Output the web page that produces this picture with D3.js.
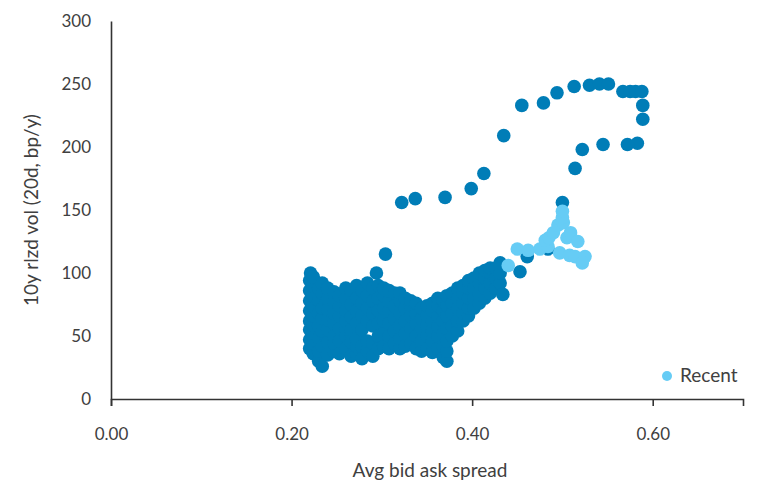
<!doctype html>
<html lang="en">
  <head>
    <meta charset="UTF-8" />
    <title>Vol vs bid ask spread</title>
    <script src="https://d3js.org/d3.v7.min.js"></script>
    <style>
      body { margin: 0; background: #fff; }
      text { font-family: Lato, "Open Sans", sans-serif; fill: #404040; }
    </style>
  </head>
  <body>
    <svg width="757" height="485"></svg>
    <script>
      // [avg bid ask spread, 10y realised vol]
      const historyPoints = [
        [0.220, 40], [0.220, 47], [0.220, 55], [0.220, 62], [0.220, 70], [0.220, 78], [0.220, 86], [0.220, 94], [0.221, 100],
        [0.224, 36], [0.224, 44], [0.224, 52], [0.224, 59], [0.224, 66], [0.224, 74], [0.224, 82], [0.224, 90], [0.224, 97],
        [0.230, 30], [0.230, 38], [0.230, 48], [0.230, 58], [0.230, 68], [0.230, 78], [0.230, 88],
        [0.234, 26], [0.234, 42], [0.234, 54], [0.234, 64], [0.234, 72], [0.234, 84], [0.234, 92],
        [0.240, 35], [0.240, 45], [0.240, 55], [0.240, 63], [0.240, 71], [0.240, 80], [0.240, 88],
        [0.247, 38], [0.247, 44], [0.247, 50], [0.247, 60], [0.247, 68], [0.247, 77], [0.247, 85],
        [0.253, 36], [0.253, 46], [0.253, 56], [0.253, 66], [0.253, 74], [0.253, 82],
        [0.260, 40], [0.260, 50], [0.260, 56], [0.260, 62], [0.260, 70], [0.260, 80], [0.260, 88],
        [0.266, 34], [0.266, 45], [0.266, 55], [0.266, 65], [0.266, 75], [0.266, 86],
        [0.272, 36], [0.272, 42], [0.272, 48], [0.272, 60], [0.272, 70], [0.272, 80], [0.272, 90],
        [0.278, 32], [0.278, 42], [0.278, 55], [0.278, 66], [0.278, 76], [0.278, 86],
        [0.284, 38], [0.284, 46], [0.284, 62], [0.284, 72], [0.284, 82], [0.284, 92],
        [0.290, 34], [0.290, 44], [0.290, 58], [0.290, 68], [0.290, 78], [0.290, 88],
        [0.296, 40], [0.296, 50], [0.296, 60], [0.296, 70], [0.296, 80], [0.296, 90], [0.294, 100],
        [0.302, 42], [0.302, 52], [0.302, 62], [0.302, 72], [0.302, 82], [0.302, 88], [0.304, 115],
        [0.308, 40], [0.308, 50], [0.308, 60], [0.308, 70], [0.308, 78], [0.308, 86],
        [0.314, 44], [0.314, 54], [0.314, 64], [0.314, 74], [0.314, 84],
        [0.320, 40], [0.320, 48], [0.320, 58], [0.320, 68], [0.320, 78], [0.320, 84],
        [0.326, 42], [0.326, 52], [0.326, 62], [0.326, 72], [0.326, 80],
        [0.332, 44], [0.332, 56], [0.332, 66], [0.332, 74], [0.332, 78],
        [0.338, 40], [0.338, 50], [0.338, 60], [0.338, 68], [0.338, 76],
        [0.344, 38], [0.344, 46], [0.344, 56], [0.344, 64], [0.344, 72],
        [0.350, 40], [0.350, 50], [0.350, 58], [0.350, 66], [0.350, 74],
        [0.356, 37], [0.356, 46], [0.356, 54], [0.356, 62], [0.356, 70], [0.356, 76],
        [0.362, 40], [0.362, 50], [0.362, 58], [0.362, 66], [0.362, 74], [0.362, 80],
        [0.368, 33], [0.368, 42], [0.368, 52], [0.368, 62], [0.368, 70], [0.368, 78],
        [0.372, 30], [0.372, 38], [0.372, 46], [0.372, 56], [0.372, 66], [0.372, 74], [0.372, 82],
        [0.378, 50], [0.378, 58], [0.378, 68], [0.378, 76], [0.378, 84],
        [0.384, 54], [0.384, 62], [0.384, 72], [0.384, 80], [0.384, 88],
        [0.390, 62], [0.390, 68], [0.390, 76], [0.390, 84], [0.390, 90],
        [0.396, 66], [0.396, 72], [0.396, 80], [0.396, 88], [0.396, 94],
        [0.402, 72], [0.402, 80], [0.402, 88], [0.402, 96],
        [0.408, 76], [0.408, 84], [0.408, 92], [0.408, 100],
        [0.414, 80], [0.414, 88], [0.414, 96], [0.414, 102],
        [0.420, 84], [0.420, 92], [0.420, 100], [0.420, 104],
        [0.426, 88], [0.426, 96], [0.426, 104],
        [0.431, 92], [0.431, 100], [0.431, 108], [0.434, 83],
        [0.453, 101], [0.461, 113], [0.484, 119],
        // the loop out to the 2020 stress
        [0.322, 156], [0.337, 159], [0.370, 160], [0.399, 167], [0.413, 179], [0.435, 209],
        [0.455, 233], [0.479, 235], [0.494, 243], [0.513, 248], [0.530, 249], [0.541, 250],
        [0.551, 250], [0.567, 244], [0.575, 244], [0.581, 244], [0.588, 244], [0.589, 233],
        [0.589, 222], [0.583, 203], [0.572, 202], [0.545, 202], [0.522, 198], [0.514, 183],
        [0.500, 156]
      ];

      const recentPoints = [
        [0.440, 106], [0.450, 119], [0.462, 118], [0.475, 119], [0.484, 121], [0.481, 126],
        [0.485, 128], [0.490, 132], [0.495, 138], [0.501, 140], [0.500, 144], [0.500, 149],
        [0.505, 128], [0.509, 132], [0.517, 125], [0.497, 116], [0.508, 114], [0.514, 113],
        [0.525, 113], [0.522, 108]
      ];

      const xTicks = [0, 0.2, 0.4, 0.6];
      const yTicks = [0, 50, 100, 150, 200, 250, 300];

      const svg = d3.select("svg");
      const x = d3.scaleLinear().domain([0, 0.7]).range([111, 743]);
      const y = d3.scaleLinear().domain([0, 300]).range([399, 21]);

      const darkBlue = "#007DB7";
      const lightBlue = "#66CCF5";

      // axes
      const xAxis = svg.append("g")
        .attr("transform", `translate(0,${y(0)})`)
        .call(d3.axisBottom(x).tickValues(xTicks).tickFormat(d3.format(".2f")).tickSize(7).tickPadding(22));
      const yAxis = svg.append("g")
        .attr("transform", `translate(${x(0)},0)`)
        .call(d3.axisLeft(y).tickValues(yTicks).tickSize(0).tickPadding(20));

      [xAxis, yAxis].forEach((ax) => {
        ax.select(".domain").attr("stroke", "#333").attr("stroke-width", 1.6);
        ax.selectAll(".tick line").attr("stroke", "#333").attr("stroke-width", 1.6);
        ax.selectAll(".tick text").style("font-size", "17px").attr("fill", "#404040");
      });

      svg.append("g").selectAll("circle")
        .data(historyPoints).join("circle")
        .attr("cx", (d) => x(d[0]))
        .attr("cy", (d) => y(d[1]))
        .attr("r", 6.8)
        .attr("fill", darkBlue);

      svg.append("g").selectAll("circle")
        .data(recentPoints).join("circle")
        .attr("cx", (d) => x(d[0]))
        .attr("cy", (d) => y(d[1]))
        .attr("r", 6.8)
        .attr("fill", lightBlue);

      // axis titles
      svg.append("text")
        .attr("x", 430).attr("y", 477)
        .attr("text-anchor", "middle")
        .style("font-size", "19px")
        .text("Avg bid ask spread");
      svg.append("text")
        .attr("transform", "translate(38,210) rotate(-90)")
        .attr("text-anchor", "middle")
        .style("font-size", "19px")
        .text("10y rlzd vol (20d, bp/y)");

      // legend
      svg.append("circle").attr("cx", 667).attr("cy", 376).attr("r", 5).attr("fill", lightBlue);
      svg.append("text").attr("x", 680).attr("y", 382).style("font-size", "19px").text("Recent");
    </script>
  </body>
</html>
